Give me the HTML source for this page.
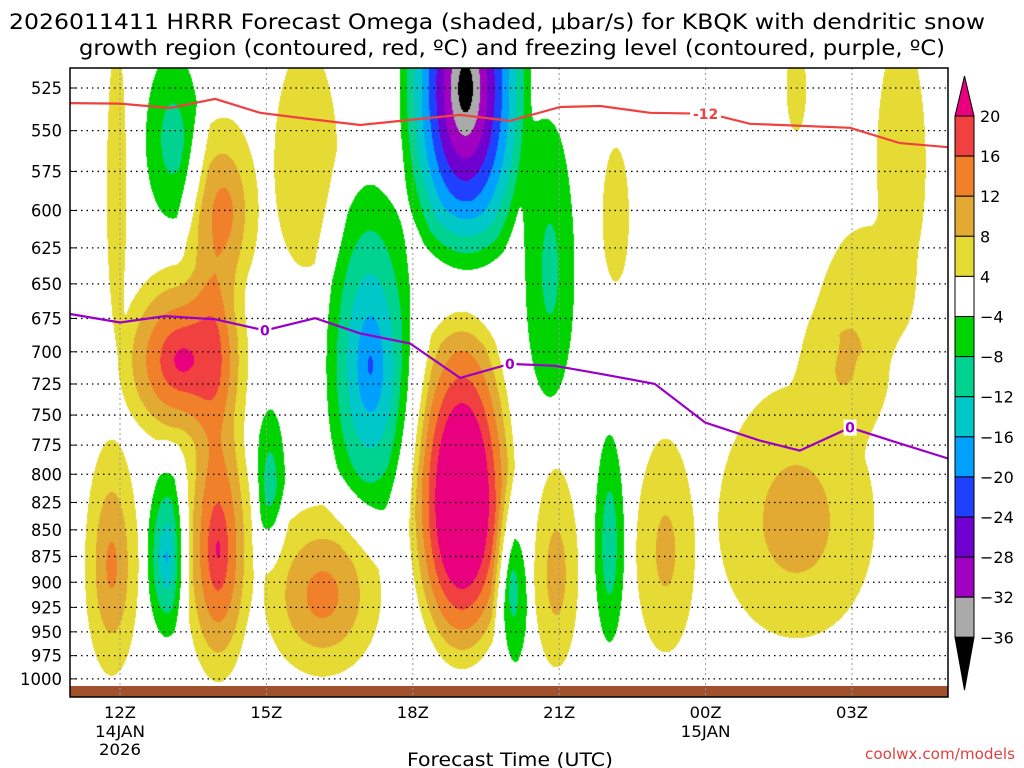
<!DOCTYPE html>
<html><head><meta charset="utf-8"><style>
html,body{margin:0;padding:0;background:#fff;width:1024px;height:768px;overflow:hidden}
#wrap{position:relative;width:1024px;height:768px}
canvas,svg{position:absolute;left:0;top:0}
text{font-family:"DejaVu Sans","Liberation Sans",sans-serif}
</style></head><body>
<div id="wrap">
<canvas id="cv" width="1024" height="768"></canvas>
<svg id="sv" width="1024" height="768"></svg>
</div>
<script>
// ---- data ----
const pressureTicks=[525,550,575,600,625,650,675,700,725,750,775,800,825,850,875,900,925,950,975,1000];
const timeTickHours=[0,3,6,9,12,15];
const timeTickLabels=["12Z","15Z","18Z","21Z","00Z","03Z"];
const timeTickSub1=["14JAN","","","","15JAN",""];
const timeTickSub2=["2026","","","","",""];
const cbLevels=[20,16,12,8,4,-4,-8,-12,-16,-20,-24,-28,-32,-36];
const cbColors=["#f04040","#f0802a","#e2aa33","#e6da35","#ffffff","#00d400","#00d290","#00c8c8","#00a0ff","#2040ff","#7000d0","#a000c0","#aaaaaa"];
// omega field features: center time (h from 12Z), center pressure (hPa), radius (h), radius (hPa), peak (ubar/s)
const blobT=[-0.08,-0.18,1.25,2.13,2.0,4.14,3.8,1.07,0.95,3.07,5.12,7.07,8.8,10.15,7.0,8.93,8.03,10.02,11.17,13.85,14.86,15.37,16.0,13.85,1.9];
const blobP=[587,883,706,600,868,912,570,555,875,807,710,525,640,604,823,891,905,863,870,841,710,655,570,525,700];
const blobRT=[0.2,0.55,1.3,0.7,0.7,1.2,0.65,0.55,0.4,0.3,0.9,1.35,0.5,0.27,1.1,0.45,0.32,0.3,0.6,1.6,0.9,0.9,0.5,0.2,0.6];
const blobRP=[88,113,70,58,135,85,68,50,80,62,127,125,95,44,166,96,80,97,101,115,60,45,75,25,120];
const blobA=[5,14,22,14,21,15,6,-11,-17,-11,-21,-40,-10,5,36,11,-14,-12,10,11,9,6,6,5,15];
// contour lines
const redT=[-1.02,0,1.02,1.95,2.87,3.69,4.92,5.94,6.97,7.99,9.02,9.84,10.86,12.09,12.91,14.96,15.98,16.97];
const redP=[533.7,534,536.6,531.3,539.4,542.4,546.6,543.6,540.6,544.2,536,535.4,539.4,540,545.9,548.3,557.5,560];
const purT=[-1.02,0,0.92,1.95,2.97,4.0,4.92,5.94,6.97,7.99,8.91,9.84,10.96,11.99,13.11,13.93,14.96,15.98,16.97];
const purP=[671.7,678,673.3,675.6,683.9,674.8,686.1,693.6,720.2,709.3,710.8,717,724.9,756.1,771.2,779.6,760.3,773.5,786.4];
const purLabelIdx=[4,9,16];
const redLabelT=12.0;

// ---- axes ----
const X0=70,X1=948,Y0=68,Y1=697;
const xs=h=>120+h*48.8;
const ys=p=>88+Math.log(p/525)*917;
const hOf=x=>(x-120)/48.8;
const pOf=y=>525*Math.exp((y-88)/917);

// ---- field ----
function omega(h,p){let pos=0,neg=0;for(let i=0;i<blobA.length;i++){const dt=(h-blobT[i])/blobRT[i],dp=(p-blobP[i])/blobRP[i];const d=Math.sqrt(dt*dt+dp*dp);if(d>1.4)continue;const A=blobA[i],a=Math.abs(A);const f=d<=1?a-(a-4)*d:4*(1-(d-1)/0.4);if(f<=0)continue;if(A>0)pos+=f*f;else neg+=f*f;}return Math.sqrt(pos)-Math.sqrt(neg);}
function hex(c){return [parseInt(c.substr(1,2),16),parseInt(c.substr(3,2),16),parseInt(c.substr(5,2),16)];}
function colorOf(v){if(v>=20)return hex("#e8007f");if(v<-36)return [0,0,0];for(let i=0;i<cbLevels.length-1;i++){if(v>=cbLevels[i+1]&&v<cbLevels[i])return hex(cbColors[i]);}return [255,255,255];}
const cv=document.getElementById('cv'),ctx=cv.getContext('2d');
ctx.fillStyle='#fff';ctx.fillRect(0,0,1024,768);
const img=ctx.createImageData(X1-X0,Y1-Y0);
for(let y=Y0;y<Y1;y++){const p=pOf(y);for(let x=X0;x<X1;x++){const c=colorOf(omega(hOf(x),p));const k=((y-Y0)*(X1-X0)+(x-X0))*4;img.data[k]=c[0];img.data[k+1]=c[1];img.data[k+2]=c[2];img.data[k+3]=255;}}
ctx.putImageData(img,X0,Y0);

// ---- svg overlay ----
const NS="http://www.w3.org/2000/svg",sv=document.getElementById('sv');
function mk(tag,attrs,parent){const e=document.createElementNS(NS,tag);for(const k in attrs)e.setAttribute(k,attrs[k]);(parent||sv).appendChild(e);return e;}
function txt(s,x,y,size,anchor,name,fill,len){const t=mk('text',{x:x,y:y,'font-size':size,'text-anchor':anchor||'start'});t.setAttribute('style','fill:'+(fill||'#000'));if(len){t.setAttribute('textLength',len);t.setAttribute('lengthAdjust','spacingAndGlyphs');}t.textContent=s;


return t;}
// ground strip
const g=mk('rect',{x:X0,y:686,width:X1-X0,height:Y1-686,fill:'#a0522d'});


// gridlines
pressureTicks.forEach(p=>{const l=mk('line',{x1:X0,x2:X1,y1:ys(p),y2:ys(p),stroke:'#000','stroke-width':1.3,'stroke-dasharray':'1.5,4'});


const tk=mk('line',{x1:X0,x2:X0+6,y1:ys(p),y2:ys(p),stroke:'#000','stroke-width':1});


txt(String(p),62,ys(p)+6,17,'end','y-tick-label',null,p>=1000?42:31);});
timeTickHours.forEach((h,i)=>{const l=mk('line',{x1:xs(h),x2:xs(h),y1:Y0,y2:Y1,stroke:'#999','stroke-width':1,'stroke-dasharray':'2,3'});


txt(timeTickLabels[i],xs(h),718,16,'middle','x-tick-label',null,32);
if(timeTickSub1[i])txt(timeTickSub1[i],xs(h),737,16,'middle','x-date-label',null,50);
if(timeTickSub2[i])txt(timeTickSub2[i],xs(h),755,16,'middle','x-year-label',null,42);});
// contour lines
function line(T,P,color,name){const d=T.map((t,i)=>(i?'L':'M')+xs(t).toFixed(1)+','+ys(P[i]).toFixed(1)).join(' ');const e=mk('path',{d:d,fill:'none',stroke:color,'stroke-width':2.2});

}
line(redT,redP,'#f04040','dgz-contour-minus12');
line(purT,purP,'#9a00c8','freezing-level-contour');
function clabel(x,y,s,color,name){const w=s.length*9+4;const r=mk('rect',{x:x-w/2,y:y-8,width:w,height:16,fill:'#fff'});


txt(s,x,y+5,14,'middle',name,color).setAttribute('font-weight','bold');}
{let i=0;while(redT[i+1]<redLabelT)i++;const f=(redLabelT-redT[i])/(redT[i+1]-redT[i]);clabel(xs(redLabelT),ys(redP[i]+f*(redP[i+1]-redP[i])),'-12','#f04040','red-contour-label');}
purLabelIdx.forEach(i=>clabel(xs(purT[i]),ys(purP[i]),'0','#9a00c8','purple-contour-label'));
// frame
const fr=mk('rect',{x:X0,y:Y0,width:X1-X0,height:Y1-Y0,fill:'none',stroke:'#000','stroke-width':1.5});


// colorbar
const CBX=955,CBW=19,CBY=116,CBS=40.1;
cbColors.forEach((c,i)=>{const r=mk('rect',{x:CBX,y:CBY+i*CBS,width:CBW,height:CBS,fill:c,stroke:'#000','stroke-width':1});

});
const tt=mk('polygon',{points:`${CBX},${CBY} ${CBX+CBW},${CBY} ${CBX+CBW/2},76`,fill:'#e8007f',stroke:'#000','stroke-width':1});


const bt=mk('polygon',{points:`${CBX},${CBY+13*CBS} ${CBX+CBW},${CBY+13*CBS} ${CBX+CBW/2},690`,fill:'#000',stroke:'#000','stroke-width':1});


cbLevels.forEach((v,i)=>txt(v<0?'\u2212'+(-v):String(v),980,CBY+i*CBS+6,16,'start','colorbar-label'));
// titles
txt('2026011411 HRRR Forecast Omega (shaded, \u03bcbar/s) for KBQK with dendritic snow',497,29,21,'middle','chart-title-line1',null,976);
txt('growth region (contoured, red, \u00baC) and freezing level (contoured, purple, \u00baC)',512,55,21,'middle','chart-title-line2',null,866);
txt('Forecast Time (UTC)',510,766,19,'middle','x-axis-title',null,206);
txt('coolwx.com/models',1015,759,15,'end','source-credit','#e04040',150);
</script>
</body></html>
